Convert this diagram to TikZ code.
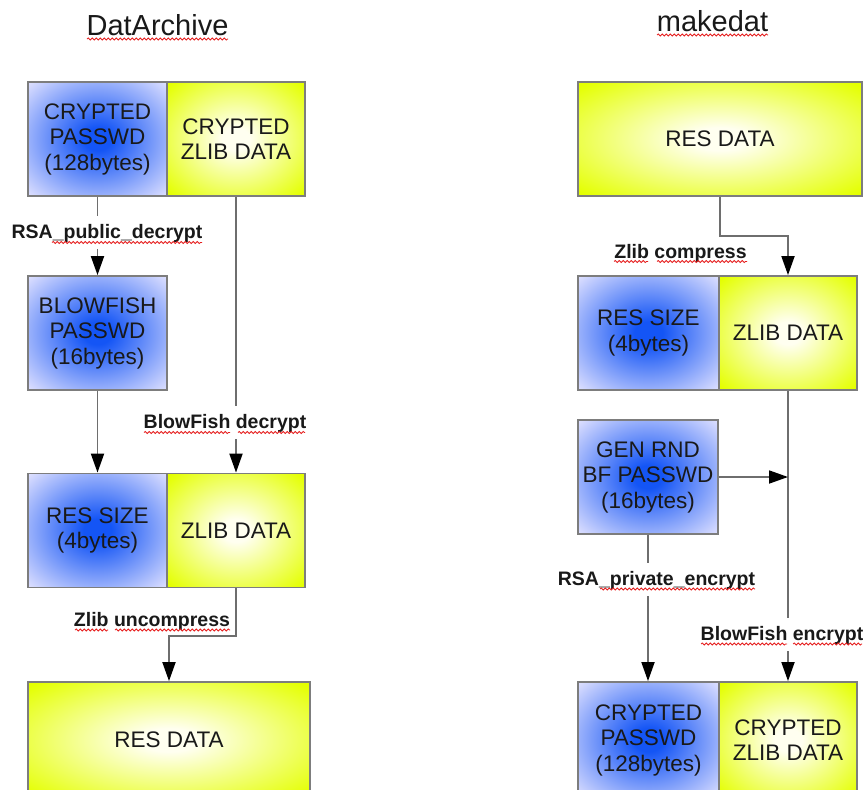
\documentclass[tikz,border=0pt]{standalone}
\usepackage{fontspec}
\setmainfont{Liberation Sans}
\usetikzlibrary{arrows.meta,decorations.pathmorphing}
\definecolor{bc}{RGB}{20,85,245}
\definecolor{be}{RGB}{228,228,255}
\definecolor{yc}{RGB}{255,255,240}
\definecolor{ye}{RGB}{228,255,0}
\definecolor{bord}{RGB}{125,125,125}
\definecolor{conn}{RGB}{110,110,110}
\definecolor{wav}{RGB}{230,30,30}
\pgfdeclareradialshading{blueshade}{\pgfpointorigin}{color(0bp)=(bc);color(5bp)=(bc);color(36bp)=(be);color(50bp)=(be)}
\pgfdeclareradialshading{yellowshade}{\pgfpointorigin}{color(0bp)=(yc);color(5bp)=(yc);color(34bp)=(ye);color(50bp)=(ye)}
\tikzset{
  box/.style={draw=bord, line width=1.8pt, minimum width=139pt, minimum height=114pt,
    inner sep=0pt, align=center, font=\fontsize{22.5}{25.5}\selectfont, text=black!90},
  bluebox/.style={box, shading=blueshade},
  yelbox/.style={box, shading=yellowshade},
  conn/.style={draw=conn, line width=1.8pt, -{Triangle[length=19pt,width=13pt,color=black]}},
  lab/.style={anchor=base, inner sep=0pt, font=\bfseries\fontsize{19.5}{22}\selectfont, text=black!90},
  labfill/.style={lab, fill=white, inner xsep=2pt, inner ysep=6pt, text height=16pt, text depth=5pt},
  ttl/.style={anchor=base, inner sep=0pt, font=\fontsize{29}{32}\selectfont, text=black!90},
  wavy/.style={draw=wav, line width=0.8pt, decorate, decoration={snake, amplitude=1pt, segment length=4pt}}
}
\begin{document}
\begin{tikzpicture}[x=1pt,y=-1pt]
\useasboundingbox (0,0) rectangle (865,790);
\clip (0,0) rectangle (865,790);
\fill[white] (0,0) rectangle (865,790);

% titles
\node[ttl] (t1) at (157.5,35) {DatArchive};
\node[ttl] (t2) at (712.5,31) {makedat};

% left column boxes
\node[bluebox] (cp) at (97.5,139) {CRYPTED\\PASSWD\\(128bytes)};
\node[yelbox, minimum width=138pt] (cz) at (236,139) {CRYPTED\\ZLIB DATA};
\node[bluebox] (bf) at (97.5,333) {BLOWFISH\\PASSWD\\(16bytes)};
\node[bluebox] (rs) at (97.5,530.5) {RES SIZE\\(4bytes)};
\node[yelbox, minimum width=138pt] (zd) at (236,530.5) {ZLIB DATA};
\node[yelbox, minimum width=282pt, minimum height=116pt] (rd) at (169,740) {RES DATA};

% right column boxes
\node[yelbox, minimum width=284pt] (rt) at (720,139) {RES DATA};
\node[bluebox, minimum width=141pt] (rs2) at (648.5,333) {RES SIZE\\(4bytes)};
\node[yelbox, minimum width=138pt] (zd2) at (788,333) {ZLIB DATA};
\node[bluebox, minimum width=140pt] (gen) at (648,477) {GEN RND\\BF PASSWD\\(16bytes)};
\node[bluebox, minimum width=141pt, minimum height=116pt] (cp2) at (648.5,740) {CRYPTED\\PASSWD\\(128bytes)};
\node[yelbox, minimum width=138pt, minimum height=116pt] (cz2) at (788,740) {CRYPTED\\ZLIB DATA};

% left connectors
\draw[conn] (cp.south) -- (bf.north);
\draw[conn] (cz.south) -- (zd.north);
\draw[conn] (bf.south) -- (rs.north);
\coordinate (k1) at (236,636);
\draw[conn] (zd.south) -- (k1) -| (rd.north);

% right connectors
\coordinate (k2) at (720,236);
\draw[conn] (rt.south) -- (k2) -| (zd2.north);
\draw[conn] (zd2.south) -- (cz2.north);
\draw[conn] (gen.east) -- (gen.east -| zd2.south);
\draw[conn] (gen.south) -- (gen.south |- cp2.north);

% labels
\node[labfill] (l1) at (107,238) {RSA\_public\_decrypt};
\node[labfill] (l2) at (225,428) {BlowFish decrypt};
\node[lab] (l3) at (152,626) {Zlib uncompress};
\node[lab] (l4) at (680.5,258) {Zlib compress};
\node[labfill] (l5) at (656.5,585) {RSA\_private\_encrypt};
\node[labfill] (l6) at (782,640) {BlowFish encrypt};

% spell-check underlines
\draw[wavy] (87,39) -- (228,39);
\draw[wavy] (657,35) -- (768,35);
\draw[wavy] (52,242.5) -- (202,242.5);
\draw[wavy] (144,432.5) -- (230,432.5);
\draw[wavy] (238,432.5) -- (305,432.5);
\draw[wavy] (75,630) -- (108,630);
\draw[wavy] (115,630) -- (230,630);
\draw[wavy] (614,261.5) -- (648,261.5);
\draw[wavy] (657,261.5) -- (747,261.5);
\draw[wavy] (600,589) -- (755,589);
\draw[wavy] (701,644) -- (787,644);
\draw[wavy] (793,644) -- (862,644);
\end{tikzpicture}
\end{document}
